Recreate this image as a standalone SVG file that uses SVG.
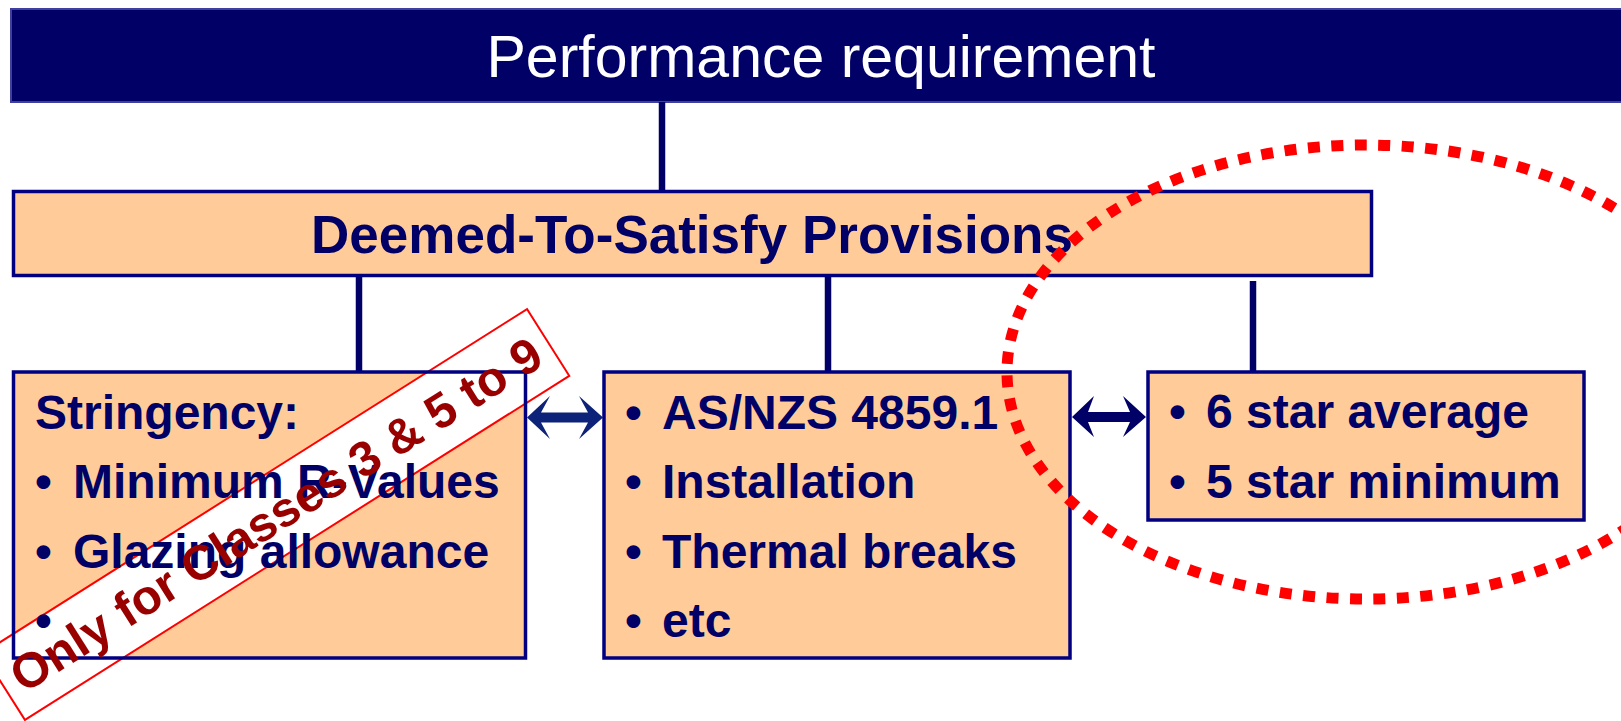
<svg xmlns="http://www.w3.org/2000/svg" width="1621" height="721" viewBox="0 0 1621 721">
<style>
  .t { font-family: "Liberation Sans", Arial, sans-serif; }
  .b { font-weight: bold; fill: #000066; font-size: 48px; }
  .box { fill: #FFCC99; }
  .bord { fill: none; stroke: #000080; stroke-width: 3.5; }
  .conn { stroke: #000066; stroke-width: 6.5; fill: none; }
</style>
<rect width="1621" height="721" fill="#ffffff"/>

<g id="performance-requirement">
  <rect x="11" y="9" width="1620" height="93" fill="#000066" stroke="#3f3fa0" stroke-width="2"/>
  <text class="t" x="821" y="77" font-size="59" fill="#ffffff" text-anchor="middle">Performance requirement</text>
</g>

<g id="connectors">
  <line class="conn" x1="662" y1="102" x2="662" y2="190"/>
  <line class="conn" x1="359" y1="277" x2="359" y2="371"/>
  <line class="conn" x1="828" y1="277" x2="828" y2="371"/>
  <line class="conn" x1="1253" y1="281" x2="1253" y2="371"/>
  <path fill="#0d2279" d="M527,417.5 L550,396 L541,412.5 L588,412.5 L579,396 L603,417.5 L579,439 L588,422.5 L541,422.5 L550,439 Z"/>
  <path fill="#000066" d="M1072,417 L1094,396 L1088,412 L1130,412 L1123,396 L1146,417 L1123,437 L1130,422 L1088,422 L1094,437 Z"/>
</g>

<g id="dts-provisions">
  <rect class="box" x="13.5" y="191.5" width="1358" height="84"/>
  <rect class="bord" x="13.5" y="191.5" width="1358" height="84"/>
  <text class="t" x="692" y="253" font-size="53" font-weight="bold" fill="#000066" text-anchor="middle">Deemed-To-Satisfy Provisions</text>
</g>

<g id="stringency-fill">
  <rect class="box" x="13.5" y="372" width="512" height="286"/>
</g>

<g id="note-band" transform="translate(276,514.5) rotate(-32.3)">
  <rect x="-322" y="-39.5" width="644" height="79" fill="#ffffff" stroke="#ff0000" stroke-width="2"/>
</g>

<g id="stringency">
  <rect class="bord" x="13.5" y="372" width="512" height="286"/>
  <text class="t b" x="35" y="429">Stringency:</text>
  <text class="t b" x="35" y="498">•</text>
  <text class="t b" x="73" y="498">Minimum R-Values</text>
  <text class="t b" x="35" y="568">•</text>
  <text class="t b" x="73" y="568">Glazing allowance</text>
  <text class="t b" x="35" y="637">•</text>
</g>

<g id="as-nzs">
  <rect class="box" x="604" y="372" width="466" height="286"/>
  <rect class="bord" x="604" y="372" width="466" height="286"/>
  <text class="t b" x="625" y="429">•</text>
  <text class="t b" x="662" y="429">AS/NZS 4859.1</text>
  <text class="t b" x="625" y="498">•</text>
  <text class="t b" x="662" y="498">Installation</text>
  <text class="t b" x="625" y="568">•</text>
  <text class="t b" x="662" y="568">Thermal breaks</text>
  <text class="t b" x="625" y="637">•</text>
  <text class="t b" x="662" y="637">etc</text>
</g>

<g id="star-rating">
  <rect class="box" x="1148" y="372" width="436" height="148"/>
  <rect class="bord" x="1148" y="372" width="436" height="148"/>
  <text class="t b" x="1169" y="428">•</text>
  <text class="t b" x="1206" y="428">6 star average</text>
  <text class="t b" x="1169" y="498">•</text>
  <text class="t b" x="1206" y="498">5 star minimum</text>
</g>

<g id="note-classes" transform="translate(276,514.5) rotate(-32.3)">
  <text class="t" x="0" y="17" font-size="49" font-weight="bold" fill="#990000" text-anchor="middle">Only for Classes 3 &amp; 5 to 9</text>
</g>

<g id="highlight-ellipse">
  <ellipse cx="1366" cy="372" rx="359" ry="227" fill="none" stroke="#ff0000" stroke-width="11" stroke-dasharray="12 11.5"/>
</g>
</svg>
